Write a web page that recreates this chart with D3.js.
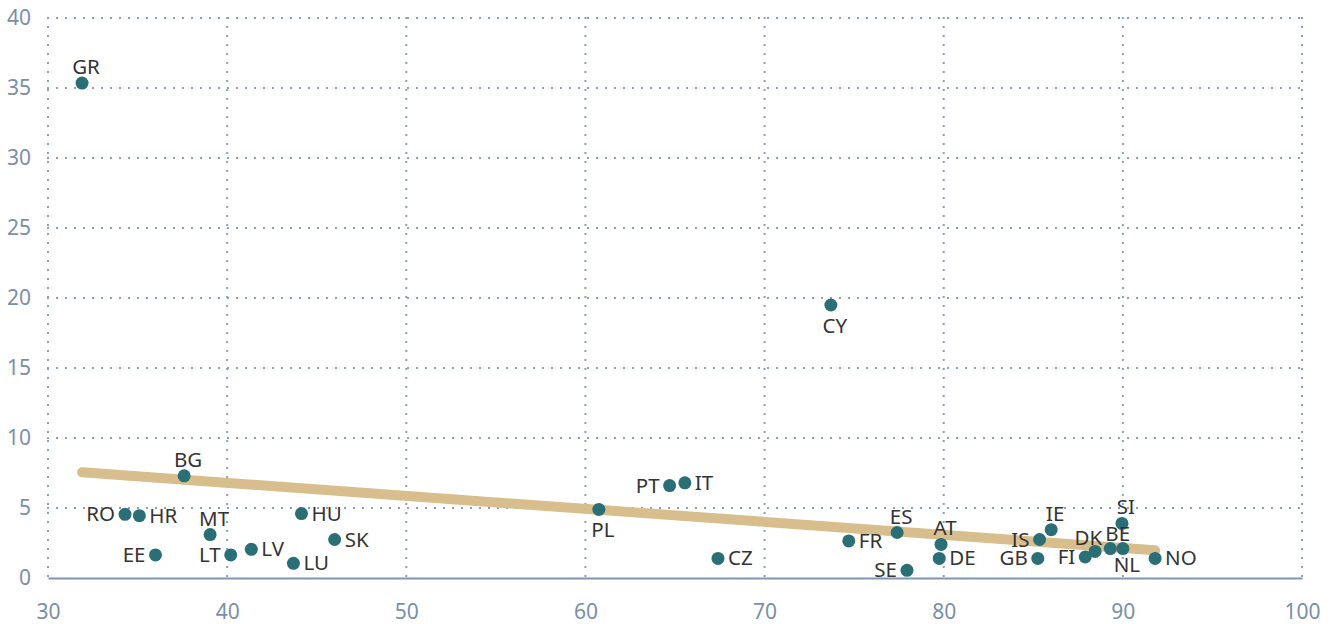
<!DOCTYPE html>
<html>
<head>
<meta charset="utf-8">
<script src="https://cdn.jsdelivr.net/npm/d3@7"></script>
<style>
  html, body { margin: 0; padding: 0; background: #fff; }
  svg { display: block; }
</style>
</head>
<body>
<div id="vis"></div>
<script>
var codes  = ["GR","BG","RO","HR","EE","MT","LT","LV","LU","HU","SK","PL","PT","IT","CZ",
              "CY","FR","ES","SE","AT","DE","GB","IS","IE","FI","DK","BE","SI","NL","NO"];
var xVals  = [31.9, 37.6, 34.3, 35.1, 36.0, 39.05, 40.2, 41.35, 43.7, 44.15, 46.0, 60.75, 64.7, 65.55, 67.4,
              73.7, 74.7, 77.4, 77.95, 79.85, 79.75, 85.25, 85.35, 86.0, 87.9, 88.45, 89.3, 89.95, 90.0, 91.8];
var yVals  = [35.35, 7.3, 4.55, 4.45, 1.65, 3.1, 1.65, 2.05, 1.05, 4.6, 2.75, 4.9, 6.6, 6.8, 1.4,
              19.5, 2.65, 3.25, 0.55, 2.4, 1.4, 1.4, 2.75, 3.45, 1.5, 1.9, 2.1, 3.9, 2.1, 1.4];
// where each country code sits relative to its dot
var labelSide = ["t","t","l","r","l","t","l","r","r","r","r","b","l","r","r",
                 "b","r","t","l","t","r","l","l","t","l","tl","tr","t","bn","r"];
var trendX = [31.9, 91.8];
var trendY = [7.55, 1.98];
var xTicks = [30, 40, 50, 60, 70, 80, 90, 100];
var yTicks = [0, 5, 10, 15, 20, 25, 30, 35, 40];

var width = 1336,
    height = 624,
    margin = {top: 18, right: 34, bottom: 46, left: 48};

var x = d3.scaleLinear().domain([30, 100]).range([margin.left, width - margin.right]);
var y = d3.scaleLinear().domain([0, 40]).range([height - margin.bottom, margin.top]);

var svg = d3.select("#vis").append("svg")
    .attr("width", width)
    .attr("height", height)
    .style("font-family", "'Noto Sans', sans-serif");

var gridColor = "#8ba0b8",
    tickColor = "#7a8fa7";

// dotted grid
svg.append("g").selectAll("line")
    .data(yTicks.filter(function(d) { return d > 0; }))
    .enter().append("line")
    .attr("x1", x(30) - 1).attr("x2", x(100) + 1)
    .attr("y1", function(d) { return y(d); })
    .attr("y2", function(d) { return y(d); })
    .attr("stroke", gridColor)
    .attr("stroke-width", 2)
    .attr("stroke-dasharray", "2,7");

svg.append("g").selectAll("line")
    .data(xTicks)
    .enter().append("line")
    .attr("x1", function(d) { return x(d); })
    .attr("x2", function(d) { return x(d); })
    .attr("y1", y(40) - 1).attr("y2", y(0))
    .attr("stroke", gridColor)
    .attr("stroke-width", 2)
    .attr("stroke-dasharray", "2,7");

// x axis
var xAxis = svg.append("g")
    .attr("transform", "translate(0," + y(0) + ")")
    .call(d3.axisBottom(x).tickValues(xTicks).tickSize(0).tickPadding(26));
xAxis.select(".domain").attr("stroke", "#7f96ae").attr("stroke-width", 2);
xAxis.selectAll("text")
    .attr("fill", tickColor)
    .style("font-size", "21px")
    .style("font-family", "'Noto Sans', sans-serif");

// y axis
var yAxis = svg.append("g")
    .attr("transform", "translate(" + (margin.left - 17) + ",0)")
    .call(d3.axisLeft(y).tickValues(yTicks).tickSize(0).tickPadding(0));
yAxis.select(".domain").remove();
yAxis.selectAll("text")
    .attr("fill", tickColor)
    .style("font-size", "21px")
    .style("font-family", "'Noto Sans', sans-serif");

// trend line
svg.append("path")
    .datum(d3.zip(trendX, trendY))
    .attr("fill", "none")
    .attr("stroke", "#d8bd8d")
    .attr("stroke-width", 10)
    .attr("stroke-linecap", "round")
    .attr("d", d3.line()
        .x(function(d) { return x(d[0]); })
        .y(function(d) { return y(d[1]); }));

var points = codes.map(function(c, i) {
    return {code: c, x: xVals[i], y: yVals[i], side: labelSide[i]};
});

svg.append("g").selectAll("circle")
    .data(points)
    .enter().append("circle")
    .attr("cx", function(d) { return x(d.x); })
    .attr("cy", function(d) { return y(d.y); })
    .attr("r", 6.5)
    .attr("fill", "#2b6f76");

var anchors = {l: "end", r: "start", t: "middle", b: "middle", bn: "middle", tl: "end", tr: "start"};
var dxs = {l: -10, r: 10, t: 4, b: 4, bn: 4, tl: 7, tr: -5};
var dys = {l: 7, r: 7, t: -9, b: 28, bn: 23, tl: -6, tr: -8};

svg.append("g").selectAll("text")
    .data(points)
    .enter().append("text")
    .attr("x", function(d) { return x(d.x) + dxs[d.side]; })
    .attr("y", function(d) { return y(d.y) + dys[d.side]; })
    .attr("text-anchor", function(d) { return anchors[d.side]; })
    .attr("fill", "#333")
    .style("font-size", "20.5px")
    .text(function(d) { return d.code; });
</script>
</body>
</html>
